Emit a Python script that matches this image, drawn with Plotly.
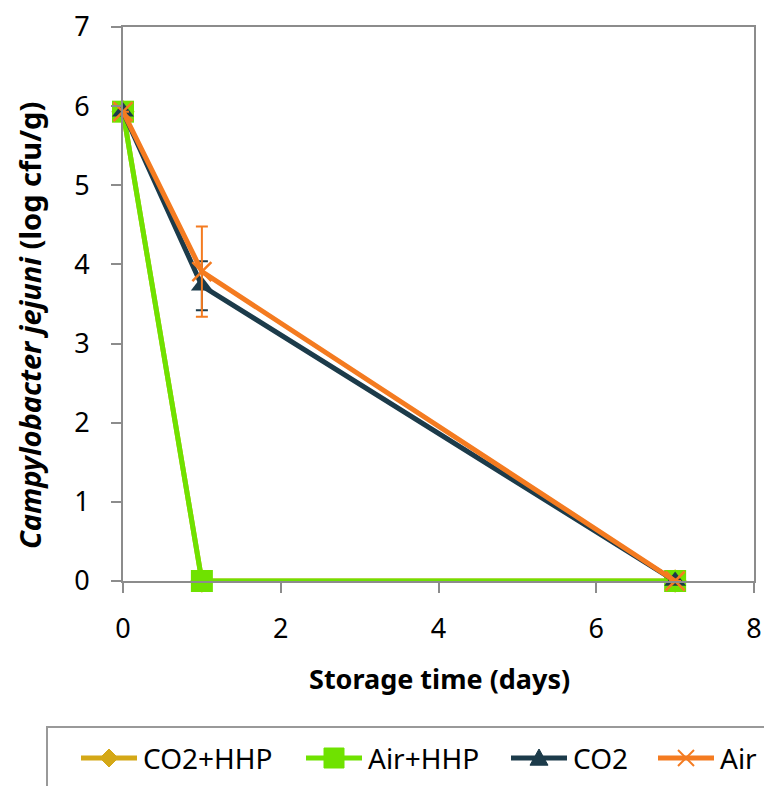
import plotly.graph_objects as go

# Storage days and log counts for each treatment
days = [0, 1, 7]
co2_hhp = [5.93, 0.0, 0.0]
air_hhp = [5.93, 0.0, 0.0]
co2 = [5.93, 3.73, 0.0]
air = [5.93, 3.91, 0.0]
co2_err = [0.0, 0.31, 0.0]
air_err = [0.0, 0.57, 0.0]

x_ticks = [0, 2, 4, 6, 8]
y_ticks = [0, 1, 2, 3, 4, 5, 6, 7]

series_names = ["CO2+HHP", "Air+HHP", "CO2", "Air"]
series_colors = ["#d4a817", "#6fe200", "#1c3b4a", "#f47b20"]
series_symbols = ["diamond", "square", "triangle", "x"]

FONT = "Noto Sans"
AXIS_GRAY = "#8c8c8c"
W, H = 764, 786
L, R, T, B = 123, 10, 27, 205
PW, PH = W - L - R, H - T - B


def fx(px):
    return (px - L) / PW


def fy(py):
    return (H - B - py) / PH


fig = go.Figure()

ys = [co2_hhp, air_hhp, co2, air]
errs = [None, None, co2_err, air_err]
plot_symbols = ["diamond", "square", "triangle-up", "x-thin"]
sizes = [18, 22, 19, 19]
for name, color, yv, err, sym, sz in zip(series_names, series_colors, ys, errs,
                                         plot_symbols, sizes):
    marker = dict(symbol=sym, size=sz, color=color)
    if sym == "x-thin":
        marker["line"] = dict(color=color, width=2.5)
    tr = go.Scatter(x=days, y=yv, name=name, mode="lines+markers",
                    line=dict(color=color, width=5), marker=marker,
                    showlegend=False, cliponaxis=False)
    if err is not None:
        tr.error_y = dict(type="data", array=err, color=color, thickness=2, width=6)
    fig.add_trace(tr)

# Legend frame
fig.add_shape(type="rect", xref="paper", yref="paper",
              x0=fx(47), x1=fx(800), y0=fy(727), y1=fy(820),
              line=dict(color="#999999", width=2), fillcolor="rgba(0,0,0,0)")

# Legend entries: line sample, marker glyph, label
leg_y = 758
leg_line_start = [79, 304, 509, 656]
seg = 60
for name, color, sym, x0 in zip(series_names, series_colors, series_symbols,
                                leg_line_start):
    fig.add_shape(type="line", xref="paper", yref="paper",
                  x0=fx(x0 + 2), x1=fx(x0 + seg - 2), y0=fy(leg_y), y1=fy(leg_y),
                  line=dict(color=color, width=5))
    cx = x0 + seg / 2
    if sym == "diamond":
        h = 9
        path = (f"M {fx(cx)},{fy(leg_y - h)} L {fx(cx + h)},{fy(leg_y)} "
                f"L {fx(cx)},{fy(leg_y + h)} L {fx(cx - h)},{fy(leg_y)} Z")
        fig.add_shape(type="path", xref="paper", yref="paper", path=path,
                      fillcolor=color, line=dict(color=color, width=1))
    elif sym == "square":
        h = 10
        fig.add_shape(type="rect", xref="paper", yref="paper",
                      x0=fx(cx - h), x1=fx(cx + h), y0=fy(leg_y + h), y1=fy(leg_y - h),
                      fillcolor=color, line=dict(color=color, width=1))
    elif sym == "triangle":
        h = 9
        path = (f"M {fx(cx)},{fy(leg_y - h)} L {fx(cx + h)},{fy(leg_y + h * 0.8)} "
                f"L {fx(cx - h)},{fy(leg_y + h * 0.8)} Z")
        fig.add_shape(type="path", xref="paper", yref="paper", path=path,
                      fillcolor=color, line=dict(color=color, width=1))
    else:
        h = 8
        for a, b in [((-h, -h), (h, h)), ((-h, h), (h, -h))]:
            fig.add_shape(type="line", xref="paper", yref="paper",
                          x0=fx(cx + a[0]), y0=fy(leg_y + a[1]),
                          x1=fx(cx + b[0]), y1=fy(leg_y + b[1]),
                          line=dict(color=color, width=2))
    fig.add_annotation(xref="paper", yref="paper", x=fx(x0 + seg + 2), y=fy(leg_y),
                       xanchor="left", yanchor="middle", showarrow=False,
                       text=name, font=dict(family=FONT, size=28, color="black"))

# Axis titles
fig.add_annotation(xref="paper", yref="paper", x=fx(439), y=fy(678),
                   xanchor="center", yanchor="middle", showarrow=False,
                   text="<b>Storage time (days)</b>",
                   font=dict(family=FONT, size=27, color="black"))
fig.add_annotation(xref="paper", yref="paper", x=fx(29), y=fy(326),
                   xanchor="center", yanchor="middle", showarrow=False,
                   textangle=-90,
                   text="<b><i>Campylobacter jejuni</i> (log cfu/g)</b>",
                   font=dict(family=FONT, size=29, color="black"))

fig.update_layout(
    width=W, height=H,
    margin=dict(l=L, r=R, t=T, b=B, autoexpand=False),
    paper_bgcolor="white", plot_bgcolor="white",
    font=dict(family=FONT, size=27, color="black"),
    showlegend=False,
    xaxis=dict(range=[0, 8], tickvals=x_ticks, ticks="outside", ticklen=10,
               tickcolor=AXIS_GRAY, tickwidth=2, ticklabelstandoff=13,
               tickfont=dict(family=FONT, size=27), automargin=False,
               showline=True, linecolor=AXIS_GRAY, linewidth=2, mirror=True,
               showgrid=False, zeroline=False),
    yaxis=dict(range=[0, 7], tickvals=y_ticks, ticks="outside", ticklen=10,
               tickcolor=AXIS_GRAY, tickwidth=2, ticklabelstandoff=16,
               tickfont=dict(family=FONT, size=27), automargin=False,
               showline=True, linecolor=AXIS_GRAY, linewidth=2, mirror=True,
               showgrid=False, zeroline=False),
)

fig.write_html("out.html")
